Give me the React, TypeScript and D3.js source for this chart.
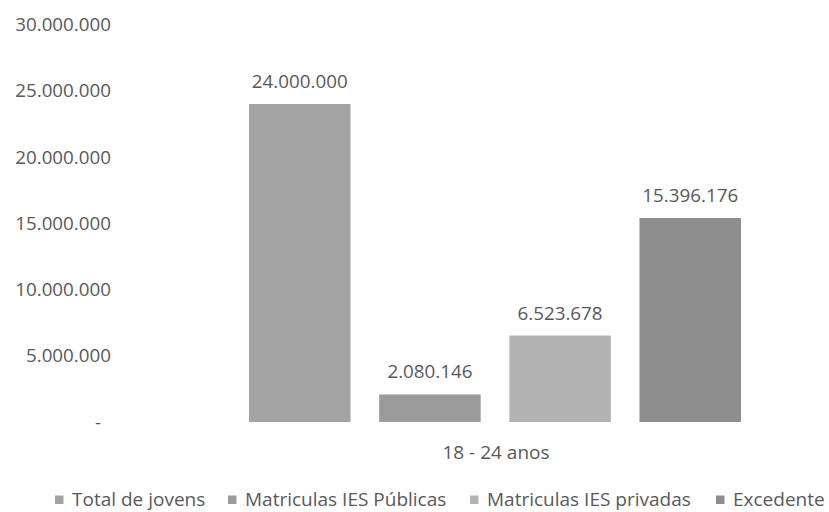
import React from "react";
import * as d3 from "d3";

const categories = ["18 - 24 anos"];
const seriesNames = ["Total de jovens", "Matriculas IES Públicas", "Matriculas IES privadas", "Excedente"];
const seriesValues = [24000000, 2080146, 6523678, 15396176];
const yTicks = [0, 5000000, 10000000, 15000000, 20000000, 25000000, 30000000];
const colors = ["#a3a3a3", "#9b9b9b", "#b3b3b3", "#8d8d8d"];

const W = 829;
const H = 512;
const textColor = "#595959";
const font = "'Open Sans', 'DejaVu Sans', sans-serif";

const fmt = (v: number) => (v === 0 ? "-" : d3.format(",")(v).replace(/,/g, "."));

export default function App() {
  const y = d3.scaleLinear().domain([0, 30000000]).range([422, 24.5]);
  const x = d3.scaleBand<string>().domain(seriesNames).range([249, 741]).paddingInner(0.22).paddingOuter(0);
  const legendTextX = [72, 245, 487, 733];
  const numSize = 18.8;

  return (
    <svg width={W} height={H} style={{ position: "absolute", left: 0, top: 0, fontFamily: font }}>
      <rect width={W} height={H} fill="#fff" />
      {yTicks.map((t) => (
        <text
          key={t}
          x={t === 0 ? 101 : 111}
          y={y(t)}
          dy="0.35em"
          textAnchor="end"
          fontSize={numSize}
          fill={textColor}
        >
          {fmt(t)}
        </text>
      ))}
      {seriesNames.map((s, i) => (
        <g key={s}>
          <rect
            x={x(s)}
            y={y(seriesValues[i])}
            width={x.bandwidth()}
            height={y(0) - y(seriesValues[i])}
            fill={colors[i]}
          />
          <text
            x={(x(s) as number) + x.bandwidth() / 2}
            y={y(seriesValues[i]) - 16}
            textAnchor="middle"
            fontSize={numSize}
            fill={textColor}
          >
            {fmt(seriesValues[i])}
          </text>
        </g>
      ))}
      {categories.map((c) => (
        <text key={c} x={496} y={452} dy="0.35em" textAnchor="middle" fontSize={19} fill={textColor}>
          {c}
        </text>
      ))}
      {seriesNames.map((s, i) => (
        <g key={"lg" + s}>
          <rect x={legendTextX[i] - 17} y={495.5} width={8.5} height={8.5} fill={colors[i]} />
          <text x={legendTextX[i]} y={499} dy="0.35em" fontSize={19} fill={textColor}>
            {s}
          </text>
        </g>
      ))}
    </svg>
  );
}
